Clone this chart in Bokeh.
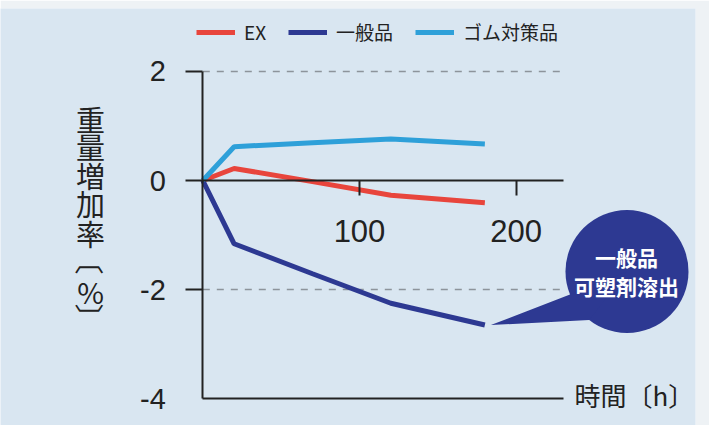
import math
from bokeh.plotting import figure
from bokeh.models import (LinearAxis, FixedTicker, Range1d, Legend, LegendItem,
                          Label)
from bokeh.core.properties import value
from bokeh.embed import file_html
from bokeh.resources import INLINE

# ---- data ----
hours = [0, 20, 70, 120, 180]
ex = [0, 0.22, -0.02, -0.27, -0.41]
ippan = [0, -1.16, -1.71, -2.25, -2.65]
gomu = [0, 0.62, 0.69, 0.76, 0.67]
series_names = ["EX", "一般品", "ゴム対策品"]
series_colors = ["#e8453c", "#2d3992", "#2ea0d9"]
y_ticks = [2, 0, -2]
y_bottom = [-4]
x_ticks = [100, 200]
x_end = 230
grid_levels = [2, -2]
y_title_chars = ["重", "量", "増", "加", "率", "〔", "%", "〕"]
x_title = "時間〔h〕"
bubble_lines = ["一般品", "可塑剤溶出"]

W, H = 709, 425
TOP, RIGHT = 8, 14
PX_X = 1.567   # px per hour
PX_Y = 54.55   # px per %
X0 = 202.3     # px of x=0
Y0S = 180.0    # px (from top of page) of y=0

def dx(sx):
    return (sx - X0) / PX_X

def dy(sy):
    return (Y0S - sy) / PX_Y

BG = "#d9e6f1"
JP = "Noto Sans CJK JP"
NUM = "Liberation Sans"
INK = "#222222"

p = figure(width=W, height=H, output_backend="svg", toolbar_location=None,
           x_range=Range1d(dx(0), dx(W - RIGHT)),
           y_range=Range1d(dy(H), dy(TOP)),
           x_axis_type=None, y_axis_type=None, min_border=0,
           min_border_top=TOP, min_border_right=RIGHT,
           background_fill_color=BG, border_fill_color="#eef2f5")
p.outline_line_color = None
p.grid.visible = False

# dashed reference lines
p.segment(x0=[0] * len(grid_levels), x1=[x_end] * len(grid_levels),
          y0=grid_levels, y1=grid_levels, line_color="#8d949b",
          line_width=1.5, line_dash="7 7")

def style_labels(ax, size):
    ax.major_label_text_font = NUM
    ax.major_label_text_font_size = size
    ax.major_label_text_color = INK
    ax.minor_tick_line_color = None

# axes
yax = LinearAxis(fixed_location=0, bounds=(y_bottom[0], max(y_ticks)),
                 ticker=FixedTicker(ticks=y_ticks))
yax.major_tick_out = 17
yax.major_tick_in = 0
yax.axis_line_width = 2
yax.axis_line_color = INK
yax.major_tick_line_width = 2
yax.major_tick_line_color = INK
yax.major_label_standoff = 20
yax.major_label_overrides = {t: str(t) for t in y_ticks}
style_labels(yax, "29px")
p.add_layout(yax, "left")

yax2 = LinearAxis(fixed_location=0, ticker=FixedTicker(ticks=y_bottom))
yax2.axis_line_color = None
yax2.major_tick_out = 0
yax2.major_tick_in = 0
yax2.major_tick_line_color = None
yax2.major_label_standoff = 37
yax2.major_label_overrides = {t: str(t) for t in y_bottom}
style_labels(yax2, "29px")
p.add_layout(yax2, "left")

xax = LinearAxis(fixed_location=0, bounds=(0, x_end),
                 ticker=FixedTicker(ticks=x_ticks))
xax.major_tick_out = 15
xax.major_tick_in = 0
xax.axis_line_width = 2
xax.axis_line_color = INK
xax.major_tick_line_width = 2
xax.major_tick_line_color = INK
xax.major_label_standoff = 24
style_labels(xax, "31px")
p.add_layout(xax, "below")

xax2 = LinearAxis(fixed_location=y_bottom[0], bounds=(0, x_end),
                  ticker=FixedTicker(ticks=[]))
xax2.axis_line_width = 2
xax2.axis_line_color = INK
xax2.minor_tick_line_color = None
xax2.major_tick_line_color = None
p.add_layout(xax2, "below")

# series
renderers = []
for vals, color in zip([ex, ippan, gomu], series_colors):
    r = p.line(hours, vals, line_color=color, line_width=5)
    renderers.append(r)

legend = Legend(items=[LegendItem(label=n, renderers=[r])
                       for n, r in zip(series_names, renderers)],
                orientation="horizontal", location=(196, H - 45),
                padding=0, margin=0, spacing=22, label_standoff=9,
                glyph_width=39, glyph_height=20, label_height=20,
                label_text_font=JP, label_text_font_size="19px",
                label_text_color=INK, background_fill_alpha=0,
                border_line_color=None)
p.add_layout(legend, "center")

# callout bubble
CX, CY, R = 626.5, 271.0, 61.5
bcolor = series_colors[1]
p.circle(x=[dx(CX)], y=[dy(CY)], radius=R, radius_units="screen",
         fill_color=bcolor, line_color=None)
tip_x = hours[-1] + 6 / PX_X
tip_y = ippan[-1]
a1, a2 = math.radians(158), math.radians(128)
base = [(CX + R * math.cos(a), CY + R * math.sin(a)) for a in (a1, a2)]
p.patch(x=[tip_x, dx(base[0][0]), dx(CX), dx(base[1][0])],
        y=[tip_y, dy(base[0][1]), dy(CY), dy(base[1][1])],
        fill_color=bcolor, line_color=None)
for txt, sy in zip(bubble_lines, [256, 285]):
    p.add_layout(Label(x=dx(626), y=dy(sy), text=txt, text_align="center",
                       text_baseline="middle", text_font=JP,
                       text_font_size="21px", text_font_style="bold",
                       text_color="white"))

# vertical y title (one character per line; brackets turned for vertical text)
char_y = [118.5, 145, 174.5, 202.5, 232, 259.5, 290, 317.5]
p.text(x=[dx(90)] * len(y_title_chars), y=[dy(s) for s in char_y],
       text=y_title_chars,
       angle=[-math.pi / 2 if c in "〔〕" else 0 for c in y_title_chars],
       text_align="center", text_baseline="middle",
       text_font=value(JP), text_font_size=value("29px"), text_color=INK)
p.add_layout(Label(x=dx(574), y=dy(394), text=x_title, text_align="left",
                   text_baseline="middle", text_font=JP,
                   text_font_size="26px", text_color=INK))

open("out.html", "w").write(file_html(p, INLINE))
